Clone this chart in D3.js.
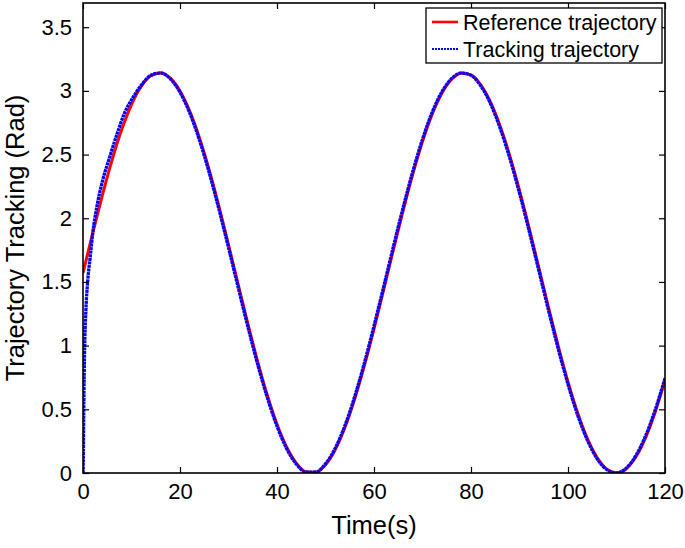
<!DOCTYPE html>
<html><head><meta charset="utf-8">
<script src="https://cdn.jsdelivr.net/npm/d3@7/dist/d3.min.js"></script>
<style>
body{margin:0;background:#fff;}
text{font-family:"Liberation Sans",Arial,Helvetica,sans-serif;fill:#000;}
</style></head>
<body><svg id="c" width="685" height="548"></svg>
<script>
// Reference trajectory (rad) sampled every 2 s
const refTime = [0,2,4,6,8,10,12,14,16,18,20,22,24,26,28,30,32,34,36,38,40,42,44,46,48,50,52,54,56,58,60,62,64,66,68,70,72,74,76,78,80,82,84,86,88,90,92,94,96,98,100,102,104,106,108,110,112,114,116,118,120];
const refValues = [1.571,1.883,2.182,2.458,2.698,2.893,3.035,3.119,3.141,3.100,2.999,2.841,2.632,2.381,2.097,1.792,1.479,1.170,0.876,0.610,0.382,0.202,0.076,0.010,0.006,0.065,0.183,0.357,0.579,0.841,1.132,1.440,1.754,2.060,2.347,2.603,2.818,2.982,3.091,3.139,3.125,3.048,2.913,2.724,2.490,2.218,1.921,1.610,1.297,0.995,0.716,0.471,0.270,0.121,0.030,0.000,0.033,0.127,0.278,0.481,0.728];
// Tracking trajectory (rad)
const trkTime = [0,0.05,0.15,0.35,0.6,1,1.5,2,3,4,5.5,7,8.5,10,12,14,16,18,20,22,24,26,28,30,32,34,36,38,40,42,44,46,48,50,52,54,56,58,60,62,64,66,68,70,72,74,76,78,80,82,84,86,88,90,92,94,96,98,100,102,104,106,108,110,112,114,116,118,120];
const trkValues = [0,0.08,0.47,1.00,1.28,1.52,1.70,1.88,2.12,2.29,2.48,2.66,2.82,2.93,3.044,3.123,3.141,3.095,2.989,2.827,2.615,2.361,2.075,1.769,1.456,1.147,0.855,0.592,0.367,0.191,0.069,0.007,0.008,0.072,0.194,0.372,0.598,0.862,1.155,1.464,1.778,2.083,2.368,2.621,2.833,2.993,3.097,3.141,3.122,3.040,2.901,2.708,2.471,2.197,1.898,1.587,1.274,0.973,0.696,0.454,0.257,0.112,0.026,0.001,0.038,0.137,0.292,0.498,0.744];
const xTicks = [0,20,40,60,80,100,120];
const yTicks = [0,0.5,1,1.5,2,2.5,3,3.5];
const seriesNames = ["Reference trajectory","Tracking trajectory"];
const seriesColors = ["#ff0000","#0000ff"];

const L=83, R=665, T=3, B=473;
const svg = d3.select("#c");
const x = d3.scaleLinear().domain([0,120]).range([L,R]);
const y = d3.scaleLinear().domain([0,3.69]).range([B,T]);

svg.append("clipPath").attr("id","pc").append("rect")
  .attr("x",L).attr("y",T-2).attr("width",R-L).attr("height",B-T+2);

const line = d3.line().x(d=>x(d[0])).y(d=>y(d[1])).curve(d3.curveMonotoneX);
const refData = refTime.map((t,i)=>[t,refValues[i]]);
const trkData = trkTime.map((t,i)=>[t,trkValues[i]]);

const g = svg.append("g").attr("clip-path","url(#pc)");
g.append("path").datum(refData).attr("d",line).attr("fill","none")
  .attr("stroke",seriesColors[0]).attr("stroke-width",3);
g.append("path").datum(trkData).attr("d",line).attr("fill","none")
  .attr("stroke",seriesColors[1]).attr("stroke-width",3.3).attr("stroke-dasharray","3,0.6");

// axes with inward ticks on all sides
const tl = 6;
const axB = svg.append("g").attr("transform",`translate(0,${B})`)
  .call(d3.axisBottom(x).tickValues(xTicks).tickSize(-tl).tickPadding(10).tickFormat(d3.format("d")));
const axT = svg.append("g").attr("transform",`translate(0,${T})`)
  .call(d3.axisTop(x).tickValues(xTicks).tickSize(-tl).tickFormat(""));
const axL = svg.append("g").attr("transform",`translate(${L},0)`)
  .call(d3.axisLeft(y).tickValues(yTicks).tickSize(-tl).tickPadding(11).tickFormat(d=>String(d)));
const axR = svg.append("g").attr("transform",`translate(${R},0)`)
  .call(d3.axisRight(y).tickValues(yTicks).tickSize(-tl).tickFormat(""));
[axB,axT,axL,axR].forEach(a=>{
  a.select(".domain").remove();
  a.selectAll(".tick line").attr("stroke","#000").attr("stroke-width",1.2);
  a.selectAll("text").style("font-size","22px").attr("font-family",null).attr("fill","#000");
});
svg.append("rect").attr("x",L).attr("y",T).attr("width",R-L).attr("height",B-T)
  .attr("fill","none").attr("stroke","#000").attr("stroke-width",1.6);

// axis labels
svg.append("text").attr("x",(L+R)/2).attr("y",534).attr("text-anchor","middle")
  .style("font-size","25.5px").text("Time(s)");
svg.append("text").attr("transform",`translate(24,${(T+B)/2}) rotate(-90)`)
  .attr("text-anchor","middle").style("font-size","25.5px").text("Trajectory Tracking (Rad)");

// legend
const lg = svg.append("g");
lg.append("rect").attr("x",426).attr("y",8).attr("width",236).attr("height",55)
  .attr("fill","#fff").attr("stroke","#000").attr("stroke-width",1.3);
seriesNames.forEach((n,i)=>{
  const yy = 22 + i*27;
  lg.append("line").attr("x1",432).attr("x2",458).attr("y1",yy).attr("y2",yy)
    .attr("stroke",seriesColors[i]).attr("stroke-width",i===0?2.6:2.2)
    .attr("stroke-dasharray",i===0?null:"2,1");
  lg.append("text").attr("x",463).attr("y",yy).attr("dy","0.36em")
    .style("font-size","21.5px").text(n);
});
</script></body></html>
